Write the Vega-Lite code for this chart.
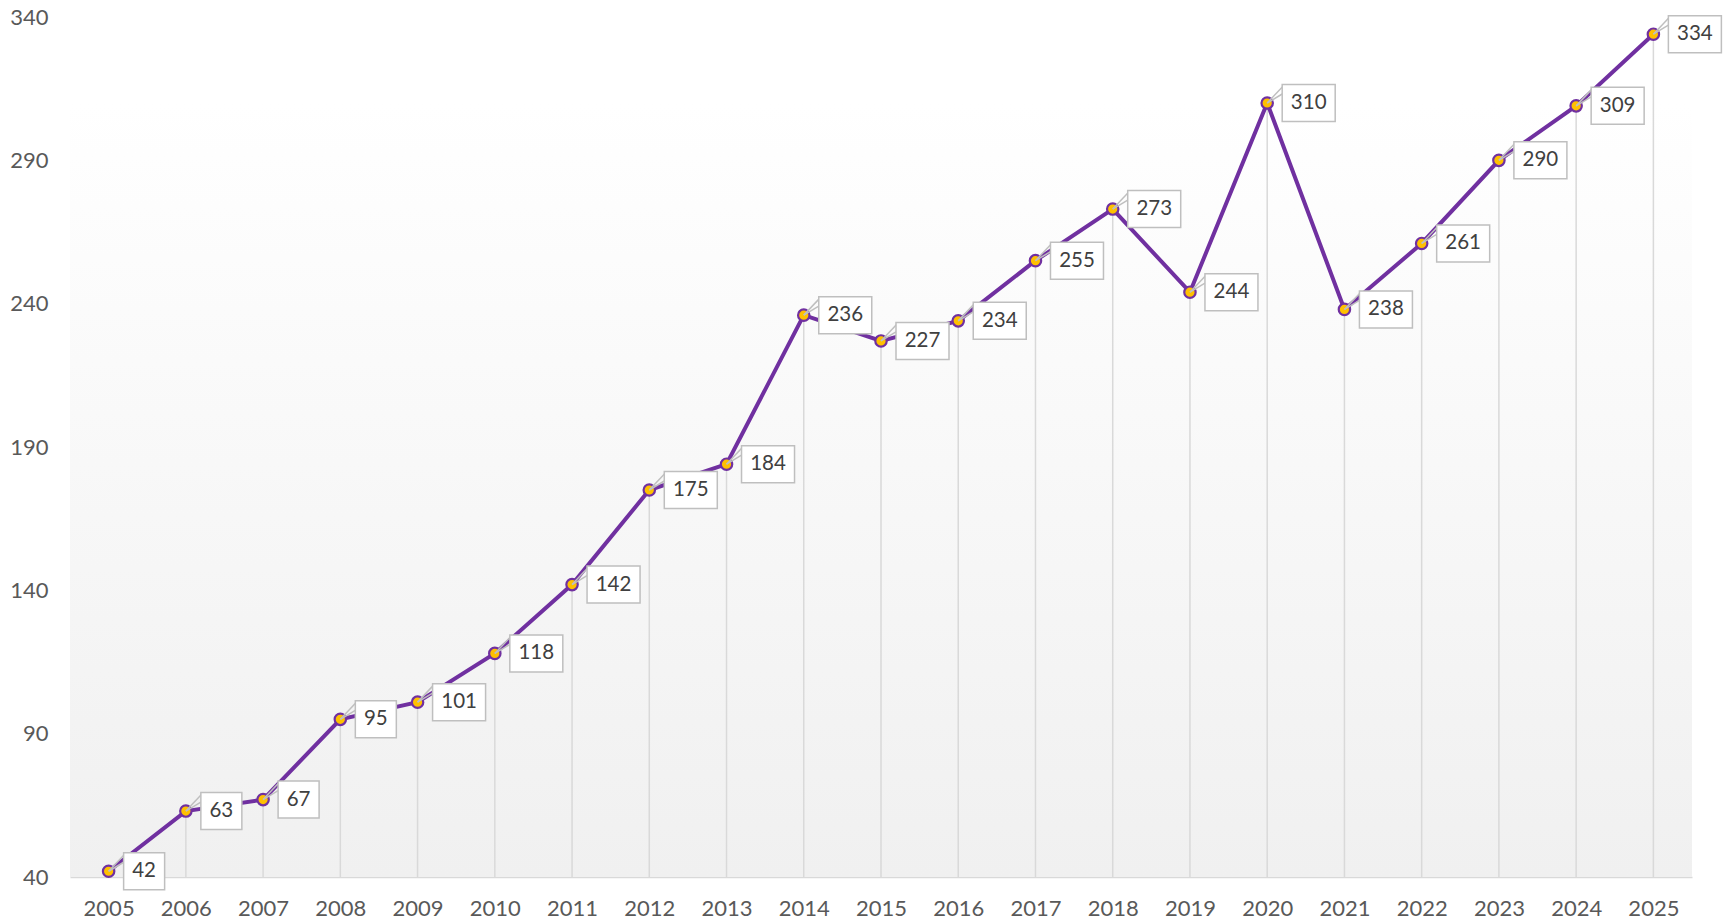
{
  "$schema": "https://vega.github.io/schema/vega-lite/v6.json",
  "width": 1622,
  "height": 860,
  "autosize": {"type": "none"},
  "padding": {"left": 70, "top": 17, "right": 35, "bottom": 45},
  "background": "white",
  "config": {"view": {"stroke": null}, "font": "Lato"},
  "data": {"values": [
    {"year": "2005", "value": 42}, {"year": "2006", "value": 63}, {"year": "2007", "value": 67},
    {"year": "2008", "value": 95}, {"year": "2009", "value": 101}, {"year": "2010", "value": 118},
    {"year": "2011", "value": 142}, {"year": "2012", "value": 175}, {"year": "2013", "value": 184},
    {"year": "2014", "value": 236}, {"year": "2015", "value": 227}, {"year": "2016", "value": 234},
    {"year": "2017", "value": 255}, {"year": "2018", "value": 273}, {"year": "2019", "value": 244},
    {"year": "2020", "value": 310}, {"year": "2021", "value": 238}, {"year": "2022", "value": 261},
    {"year": "2023", "value": 290}, {"year": "2024", "value": 309}, {"year": "2025", "value": 334}
  ]},
  "encoding": {
    "x": {"field": "year", "type": "ordinal", "scale": {"type": "point", "padding": 0.5},
      "axis": {"title": null, "labelAngle": 0, "ticks": false, "domainColor": "#d9d9d9", "domainWidth": 1.5,
        "labelFontSize": 22, "labelColor": "#595959", "labelPadding": 21, "labelFont": "Lato"}},
    "y": {"field": "value", "type": "quantitative", "scale": {"domain": [40, 340], "nice": false, "zero": false},
      "axis": {"title": null, "values": [40, 90, 140, 190, 240, 290, 340], "ticks": false, "domain": false, "grid": false,
        "labelFontSize": 22, "labelColor": "#595959", "labelPadding": 22, "labelFont": "Lato"}}
  },
  "layer": [
    {
      "data": {"values": [{}]},
      "mark": {"type": "rect", "fill": {"gradient": "linear", "x1": 0, "y1": 0, "x2": 0, "y2": 1,
        "stops": [{"offset": 0, "color": "#ffffff"}, {"offset": 0.1, "color": "#ffffff"}, {"offset": 1, "color": "#f0f0f0"}]}},
      "encoding": {"x": null, "y": null}
    },
    {
      "mark": {"type": "rule", "color": "#d9d9d9", "strokeWidth": 1.5},
      "encoding": {"y2": {"datum": 40}}
    },
    {
      "mark": {"type": "line", "color": "#7030a0", "strokeWidth": 4}
    },
    {
      "mark": {"type": "point", "shape": "circle", "filled": true, "fill": "#ffc000", "stroke": "#7030a0", "strokeWidth": 2.2, "size": 130, "opacity": 1}
    },
    {
      "mark": {"type": "rule", "color": "#bfbfbf", "strokeWidth": 1.5, "x2Offset": 15, "y2Offset": -9},
      "encoding": {"x2": {"field": "year"}, "y2": {"field": "value"}}
    },
    {
      "mark": {"type": "rule", "color": "#bfbfbf", "strokeWidth": 1.5, "x2Offset": 17, "y2Offset": -18},
      "encoding": {"x2": {"field": "year"}, "y2": {"field": "value"}}
    },
    {
      "transform": [{"filter": "datum.value < 100"}],
      "layer": [
        {"mark": {"type": "rect", "width": 41, "height": 37, "xOffset": 35.5, "fill": "white", "stroke": "#bfbfbf", "strokeWidth": 1.5}},
        {"mark": {"type": "text", "xOffset": 35.5, "fontSize": 20.5, "color": "#404040", "align": "center", "baseline": "middle", "font": "Lato"},
          "encoding": {"text": {"field": "value", "type": "quantitative"}}}
      ]
    },
    {
      "transform": [{"filter": "datum.value >= 100"}],
      "layer": [
        {"mark": {"type": "rect", "width": 53, "height": 37, "xOffset": 41.5, "fill": "white", "stroke": "#bfbfbf", "strokeWidth": 1.5}},
        {"mark": {"type": "text", "xOffset": 41.5, "fontSize": 20.5, "color": "#404040", "align": "center", "baseline": "middle", "font": "Lato"},
          "encoding": {"text": {"field": "value", "type": "quantitative"}}}
      ]
    }
  ]
}
